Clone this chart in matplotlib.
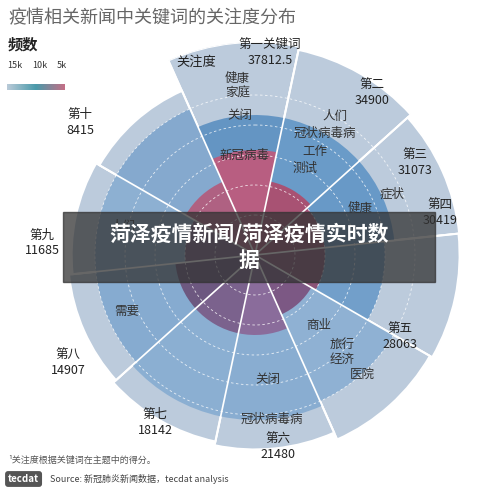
import numpy as np
import matplotlib.pyplot as plt
from matplotlib.colors import LinearSegmentedColormap
plt.rcParams['font.family'] = ['Noto Sans CJK SC', 'DejaVu Sans']

names = ['第一关键词', '第二', '第三', '第四', '第五', '第六', '第七', '第八', '第九', '第十']
values = [37812.5, 34900, 31073, 30419, 28063, 21480, 18142, 14907, 11685, 8415]
mid_px = [140, 140, 140, 130, 160, 165, 165, 160, 160, 160]
inner_px = [105, 75, 70, 70, 65, 80, 80, 80, 70, 80]
inner_cols = ['#c2587a', '#b04a6a', '#a34868', '#8d4b6e', '#7a4f7c', '#8b6596', '#7a5a86', '#6b4f78', '#7a5a80', '#b45a7a']
mid_cols = ['#5b8fc1', '#6196c6', '#5f94c5', '#6a9bc8', '#8aafd2', '#84aad0', '#86acd1', '#80a8cf', '#88add1', '#7fa6cd']
keywords = [[('健康\n家庭', 170), ('关闭', 140), ('新冠病毒', 100)],
            [('人们', 160), ('冠状病毒病', 140), ('工作', 120), ('测试', 100)],
            [('症状', 150), ('健康', 115)],
            [],
            [('商业', 95), ('旅行\n经济', 130), ('医院', 160)],
            [('冠状病毒病', 165), ('关闭', 125)],
            [],
            [('需要', 140)],
            [('人们', 135)],
            []]

PX = 213.0
OFF = 150000.0
def rpx(v):
    return (v + OFF) / (values[0] + OFF) * PX

fig = plt.figure(figsize=(5, 4.92), dpi=100)
ax = fig.add_axes([(255 - PX) / 500, (237 - PX) / 492, 2 * PX / 500, 2 * PX / 492], projection='polar')
ax.set_theta_zero_location('N')
ax.set_theta_direction(-1)
ax.set_ylim(0, PX)
ax.axis('off')

w = np.deg2rad(36)
start = np.deg2rad(-24)
thetas = start + w * np.arange(10) + w / 2
outer = [rpx(v) for v in values]
ax.bar(thetas, outer, width=w, color='#bccbdc', edgecolor='white', linewidth=1.5)
ax.bar(thetas, mid_px, width=w, color=mid_cols, edgecolor='none', alpha=0.9)
ax.bar(thetas, inner_px, width=w, color=inner_cols, edgecolor='none', alpha=0.9)
tt = np.linspace(0, 2 * np.pi, 400)
for r in [40, 70, 100, 130, 160]:
    ax.plot(tt, np.full_like(tt, r), color='white', lw=0.6, ls=(0, (3, 3)), alpha=0.8)
for i in range(10):
    a = start + w * i
    ax.plot([a, a], [0, max(outer[i], outer[i - 1])], color='white', lw=1.2)
for i, th in enumerate(thetas):
    for kw, r in keywords[i]:
        ax.text(th, r, kw, ha='center', va='center', fontsize=9, color='#333333')

lab_pos = [(270, 52), (372, 92), (415, 162), (440, 212), (400, 336), (278, 447),
           (155, 422), (68, 362), (42, 243), (80, 122)]
for (x, y), n, v in zip(lab_pos, names, values):
    fig.text(x / 500, 1 - y / 492, n + '\n' + ('%g' % v), fontsize=9, color='#222222',
             ha='center', va='center', linespacing=1.3)
fig.text(196 / 500, 1 - 62 / 492, '关注度', fontsize=9.5, color='#222222', ha='center', va='center')

fig.text(8 / 500, 1 - 18 / 492, '疫情相关新闻中关键词的关注度分布', fontsize=13, color='#666666', va='center')
fig.text(8 / 500, 1 - 45 / 492, '频数', fontsize=11, color='#222222', va='center', fontweight='bold')
for x, t in [(15, '15k'), (40, '10k'), (62, '5k')]:
    fig.text(x / 500, 1 - 65 / 492, t, fontsize=6.5, color='#333333', ha='center', va='center')
cax = fig.add_axes([7 / 500, 1 - 90 / 492, 58 / 500, 6 / 492])
cmap = LinearSegmentedColormap.from_list('c', ['#b9cad8', '#4a9aaa', '#c46f86'])
cax.imshow(np.linspace(0, 1, 100)[None, :], aspect='auto', cmap=cmap)
cax.axis('off')

fig.text(8 / 500, 1 - 460 / 492, '¹关注度根据关键词在主题中的得分。', fontsize=6.5, color='#555555', va='center')
fig.text(8 / 500, 1 - 479 / 492, 'tecdat', fontsize=7, color='white', va='center', fontweight='bold',
         bbox=dict(boxstyle='round,pad=0.3', fc='#555555', ec='none'))
fig.text(50 / 500, 1 - 479 / 492, 'Source: 新冠肺炎新闻数据，tecdat analysis', fontsize=6.5, color='#444444', va='center')

fig.patches.append(plt.Rectangle((63 / 500, 1 - 282 / 492), 372 / 500, 70 / 492,
                                 transform=fig.transFigure, color='#333333', alpha=0.75, zorder=5))
fig.text(249 / 500, 1 - 247 / 492, '菏泽疫情新闻/菏泽疫情实时数\n据', fontsize=15, color='white',
         fontweight='bold', ha='center', va='center', zorder=6, linespacing=1.3)
fig.savefig('out.png', dpi=100)
